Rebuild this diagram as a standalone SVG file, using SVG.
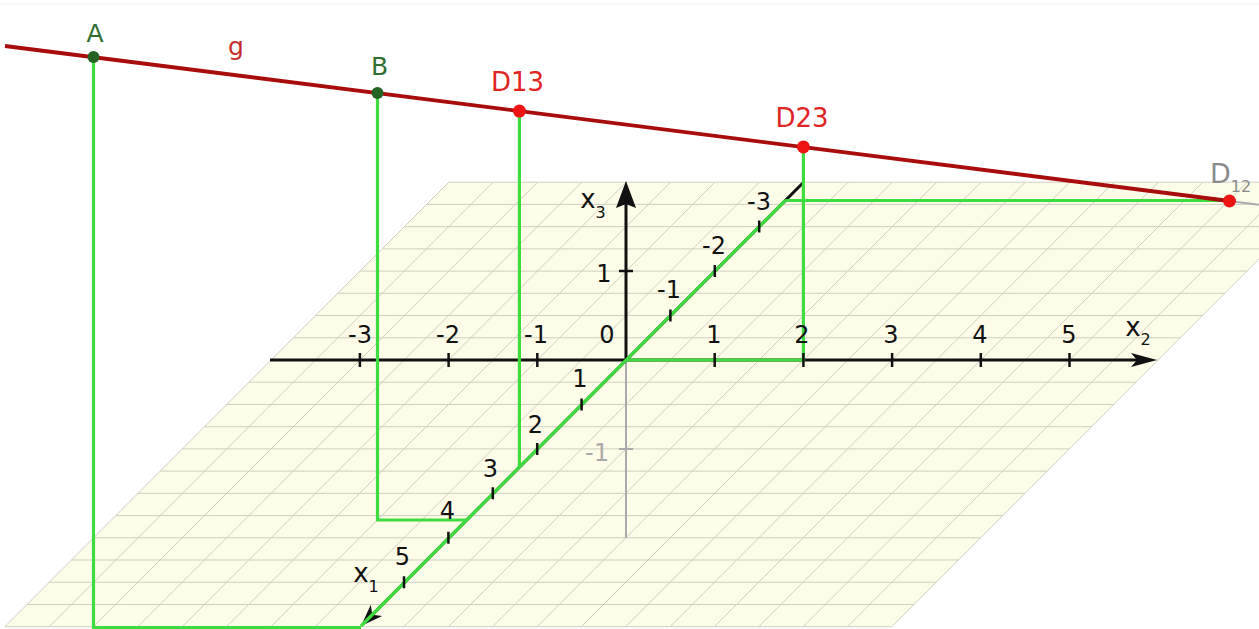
<svg xmlns="http://www.w3.org/2000/svg" width="1259" height="629" viewBox="0 0 1259 629">
<style>
.grid{stroke:#cfcfc2;stroke-width:1;fill:none}
.axis{stroke:#111;stroke-width:3;fill:none}
.hidden{stroke:#ababab;stroke-width:2;fill:none}
.tick{stroke:#111;stroke-width:2.5;fill:none}
.proj{stroke:#3fdc3f;stroke-width:3.2;fill:none;stroke-linejoin:miter}
.gline{stroke:#a80c0c;stroke-width:3.8;fill:none}
.num{font-family:"DejaVu Sans",Verdana,sans-serif;font-size:24px;fill:#111;text-anchor:middle}
.sub{font-size:16px}
.lbl{font-family:"DejaVu Sans",Verdana,sans-serif;text-anchor:middle}
.green{fill:#2f6f2f}
.red{fill:#e02424}
.dotg{fill:#246324}
.dotr{fill:#ee1414}
</style>
<rect x="0" y="0" width="1259" height="629" fill="#ffffff"/>
<line x1="0" y1="4" x2="1259" y2="4" stroke="#eeeeee" stroke-width="1"/>

<g id="plane">
<polygon points="448.8,182.2 1335.8,182.2 891.8,626.7 4.8,626.7" fill="#fcfce9"/>
<path class="grid" d="M448.8,182.2H1335.8 M426.6,204.4H1313.6 M404.4,226.65H1291.4 M382.2,248.9H1269.2 M360,271.1H1247 M337.8,293.3H1224.8 M315.6,315.55H1202.6 M293.4,337.8H1180.4 M271.2,360H1158.2 M249,382.2H1136 M226.8,404.45H1113.8 M204.6,426.7H1091.6 M182.4,448.9H1069.4 M160.2,471.1H1047.2 M138,493.35H1025 M115.8,515.6H1002.8 M93.6,537.8H980.6 M71.4,560H958.4 M49.2,582.25H936.2 M27,604.5H914 M4.8,626.7H891.8"/>
<path class="grid" d="M448.8,182.2L4.8,626.7 M493.15,182.2L49.15,626.7 M537.5,182.2L93.5,626.7 M581.85,182.2L137.85,626.7 M626.2,182.2L182.2,626.7 M670.55,182.2L226.55,626.7 M714.9,182.2L270.9,626.7 M759.25,182.2L315.25,626.7 M803.6,182.2L359.6,626.7 M847.95,182.2L403.95,626.7 M892.3,182.2L448.3,626.7 M936.65,182.2L492.65,626.7 M981,182.2L537,626.7 M1025.35,182.2L581.35,626.7 M1069.7,182.2L625.7,626.7 M1114.05,182.2L670.05,626.7 M1158.4,182.2L714.4,626.7 M1202.75,182.2L758.75,626.7 M1247.1,182.2L803.1,626.7 M1291.45,182.2L847.45,626.7 M1335.8,182.2L891.8,626.7"/>
</g>

<g id="axes">
<line class="hidden" x1="626" y1="360" x2="626" y2="538"/>
<line class="hidden" x1="619" y1="449" x2="633" y2="449"/>
<line class="axis" x1="270" y1="360" x2="1140" y2="360"/>
<path d="M1157,360 L1131,353 L1137,360 L1131,367 Z" fill="#111"/>
<line class="axis" x1="626" y1="360" x2="626" y2="204"/>
<path d="M626,181 L636,208 L626,204 L616,208 Z" fill="#111"/>
<line class="axis" x1="803.6" y1="182.2" x2="372" y2="615"/>
<path d="M361,626 L382.2,616.1 L372.3,614.7 L370.8,604.7 Z" fill="#111"/>
</g>

<g id="connectors">
<path class="proj" d="M93.5,57.5 V627.5 H361"/>
<path class="proj" d="M377.5,93.5 V520 H466.2"/>
<path class="proj" d="M519.4,111.5 V466.7"/>
<path class="proj" d="M803.4,147 V360 H626"/>
<path class="proj" d="M1229.5,200.5 H785.3"/>
<line class="proj" x1="785.3" y1="200.5" x2="361" y2="626"/>
<line class="gline" x1="5" y1="46" x2="1229.5" y2="201"/>
<line class="hidden" x1="1235" y1="201.8" x2="1259" y2="204.8"/>
</g>

<g id="ticks">
<path class="tick" d="M359.9,353V367 M448.6,353V367 M537.3,353V367 M714.7,353V367 M803.4,353V367 M892.1,353V367 M980.8,353V367 M1069.5,353V367"/>
<path class="tick" d="M619,271H633"/>
<path class="tick" d="M759.2,220.6V232.6 M714.8,265.1V277.1 M670.4,309.5V321.5 M581.6,398.4V410.4 M537.2,442.9V454.9 M492.8,487.3V499.3 M448.4,531.8V543.8 M404,576.2V588.2"/>
</g>

<g id="axis-labels">
<text class="num" x="360" y="343">-3</text>
<text class="num" x="448" y="343">-2</text>
<text class="num" x="536" y="343">-1</text>
<text class="num" x="607" y="343">0</text>
<text class="num" x="714" y="343">1</text>
<text class="num" x="802" y="343">2</text>
<text class="num" x="891" y="343">3</text>
<text class="num" x="980" y="343">4</text>
<text class="num" x="1069" y="343">5</text>
<text class="num" x="1138" y="336" style="font-size:26px">x<tspan class="sub" dy="9">2</tspan></text>
<text class="num" x="604" y="282">1</text>
<text class="num" x="593" y="208" style="font-size:26px">x<tspan class="sub" dy="10">3</tspan></text>
<text class="num" x="597" y="461" style="fill:#aaaaaa">-1</text>
<text class="num" x="759" y="210">-3</text>
<text class="num" x="714" y="254">-2</text>
<text class="num" x="669" y="298">-1</text>
<text class="num" x="580" y="387">1</text>
<text class="num" x="535.5" y="433">2</text>
<text class="num" x="490.5" y="477">3</text>
<text class="num" x="447.5" y="519">4</text>
<text class="num" x="402.5" y="565">5</text>
<text class="num" x="366" y="582" style="font-size:26px">x<tspan class="sub" dy="10">1</tspan></text>
</g>

<g id="line-g">
<text class="lbl" x="236" y="55" font-size="25" fill="#c52a2a">g</text>
</g>

<g id="point-A">
<circle class="dotg" cx="93.5" cy="57.1" r="6"/>
<text class="lbl green" x="95" y="42" font-size="25">A</text>
</g>
<g id="point-B">
<circle class="dotg" cx="377.5" cy="93.1" r="6"/>
<text class="lbl green" x="379.5" y="75" font-size="25">B</text>
</g>
<g id="point-D13">
<circle class="dotr" cx="519.4" cy="111.1" r="6.5"/>
<text class="lbl red" x="517.5" y="91" font-size="26">D13</text>
</g>
<g id="point-D23">
<circle class="dotr" cx="803.4" cy="146.9" r="6.5"/>
<text class="lbl red" x="802" y="127" font-size="26">D23</text>
</g>
<g id="point-D12">
<circle class="dotr" cx="1229.5" cy="201" r="6.5"/>
<text x="1210" y="183" font-family="DejaVu Sans, Verdana, sans-serif" font-size="27" fill="#8a8a8a">D<tspan font-size="16" dy="9">12</tspan></text>
</g>
</svg>
